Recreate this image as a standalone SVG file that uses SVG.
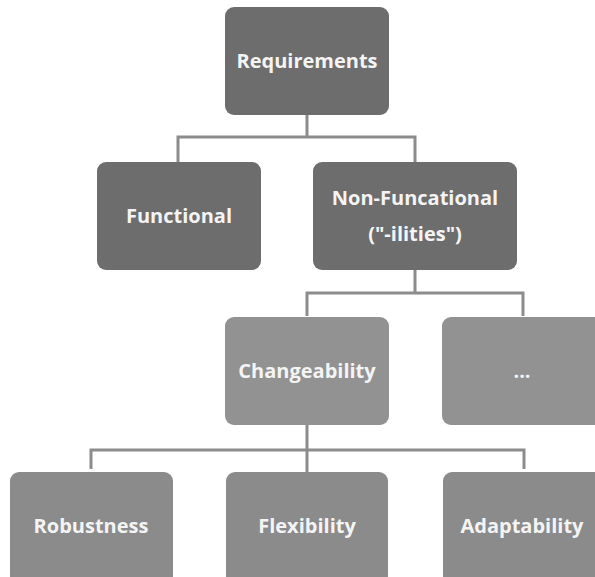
<svg xmlns="http://www.w3.org/2000/svg" width="595" height="577" viewBox="0 0 595 577">
<style>
.dark{fill:#6d6d6d}
.light{fill:#929292}
.low{fill:#8b8b8b}
.lbl{font-family:"Open Sans","Liberation Sans",sans-serif;font-weight:bold;font-size:20px;fill:#f4f4f4;text-anchor:middle}
.conn{fill:none;stroke:#8c8c8c;stroke-width:3}
</style>
<rect width="595" height="577" fill="#ffffff"/>
<g id="connectors">
<path class="conn" d="M307 115V137M178 162V137H415V162"/>
<path class="conn" d="M415 270V293M307 316V293H523V316"/>
<path class="conn" d="M307 425V472M91 469V450H524V469"/>
</g>
<g id="requirements"><rect class="dark" x="225" y="7" width="164" height="108" rx="9"/><text class="lbl" x="307" y="68">Requirements</text></g>
<g id="functional"><rect class="dark" x="97" y="162" width="164" height="108" rx="9"/><text class="lbl" x="179" y="223">Functional</text></g>
<g id="nonfunctional"><rect class="dark" x="313" y="162" width="204" height="108" rx="9"/><text class="lbl" x="415" y="205">Non-Funcational</text><text class="lbl" x="415" y="241">("-ilities")</text></g>
<g id="changeability"><rect class="light" x="225" y="317" width="164" height="108" rx="9"/><text class="lbl" x="307" y="378">Changeability</text></g>
<g id="more"><rect class="light" x="442" y="317" width="170" height="108" rx="9"/><text class="lbl" x="522" y="378">...</text></g>
<g id="robustness"><rect class="low" x="10" y="472" width="163" height="115" rx="9"/><text class="lbl" x="91" y="533">Robustness</text></g>
<g id="flexibility"><rect class="low" x="226" y="472" width="162" height="115" rx="9"/><text class="lbl" x="307" y="533">Flexibility</text></g>
<g id="adaptability"><rect class="low" x="443" y="472" width="170" height="115" rx="9"/><text class="lbl" x="522" y="533">Adaptability</text></g>
</svg>
